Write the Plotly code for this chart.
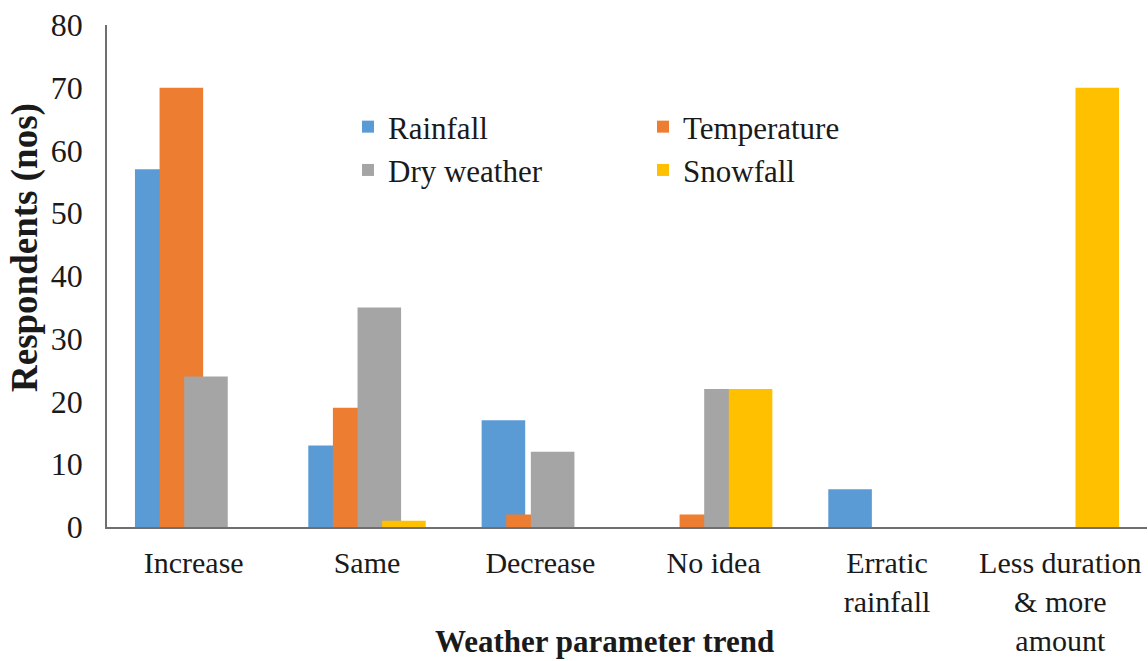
import plotly.graph_objects as go

categories = ["Increase", "Same", "Decrease", "No idea", "Erratic<br>rainfall", "Less duration<br>&amp; more<br>amount"]
rainfall = [57, 13, 17, 0, 6, 0]
temperature = [70, 19, 2, 2, 0, 0]
dry_weather = [24, 35, 12, 22, 0, 0]
snowfall = [0, 1, 0, 22, 0, 70]
y_ticks = [0, 10, 20, 30, 40, 50, 60, 70, 80]

series = [
    ("Rainfall", rainfall, "#5B9BD5", "legend"),
    ("Temperature", temperature, "#ED7D31", "legend2"),
    ("Dry weather", dry_weather, "#A5A5A5", "legend"),
    ("Snowfall", snowfall, "#FFC000", "legend2"),
]

bar_w = 0.2514
step = 0.142
start = -(3 * step + bar_w) / 2

fig = go.Figure()
for i, (name, vals, color, lg) in enumerate(series):
    fig.add_trace(go.Bar(
        x=list(range(len(categories))), y=vals, name=name,
        marker=dict(color=color, line=dict(width=0)),
        width=bar_w, offset=start + i * step, legend=lg,
    ))

font_family = "Liberation Serif, Times New Roman, serif"
text_color = "#1a1a1a"

fig.update_layout(
    width=1148, height=661,
    margin=dict(l=107, r=1, t=25, b=134, autoexpand=False),
    barmode="overlay",
    plot_bgcolor="white", paper_bgcolor="white",
    font=dict(family=font_family, color=text_color, size=30),
    xaxis=dict(
        tickmode="array", tickvals=list(range(len(categories))), ticktext=categories,
        range=[-0.5, len(categories) - 0.5], automargin=False,
        showline=True, linecolor="#6f6f6f", linewidth=1.5,
        showgrid=False, zeroline=False, ticks="",
        tickfont=dict(size=30), ticklabelstandoff=8,
    ),
    yaxis=dict(
        range=[0, 80], tickvals=y_ticks, automargin=False,
        showline=True, linecolor="#6f6f6f", linewidth=1.5,
        showgrid=False, zeroline=False, ticks="",
        tickfont=dict(size=32), ticklabelstandoff=16,
    ),
    legend=dict(x=(348 - 107) / 1040, y=(527 - 100) / 502, xanchor="left", yanchor="top",
                orientation="v", bgcolor="rgba(0,0,0,0)", font=dict(size=31),
                tracegroupgap=0, itemclick=False),
    legend2=dict(x=(643 - 107) / 1040, y=(527 - 100) / 502, xanchor="left", yanchor="top",
                 orientation="v", bgcolor="rgba(0,0,0,0)", font=dict(size=31),
                 tracegroupgap=0, itemclick=False),
    showlegend=True,
    annotations=[
        dict(text="<b>Weather parameter trend</b>", xref="paper", yref="paper",
             x=(604 - 107) / 1040, y=(527 - 641) / 502, xanchor="center", yanchor="middle",
             showarrow=False, font=dict(size=31)),
        dict(text="<b>Respondents (nos)</b>", xref="paper", yref="paper",
             x=(25 - 107) / 1040, y=(527 - 248) / 502, xanchor="center", yanchor="middle",
             textangle=-90, showarrow=False, font=dict(size=37)),
    ],
)

fig.write_html("out.html", config={"displayModeBar": False},
               post_script="document.body.style.margin='0';document.body.style.overflow='hidden';")
